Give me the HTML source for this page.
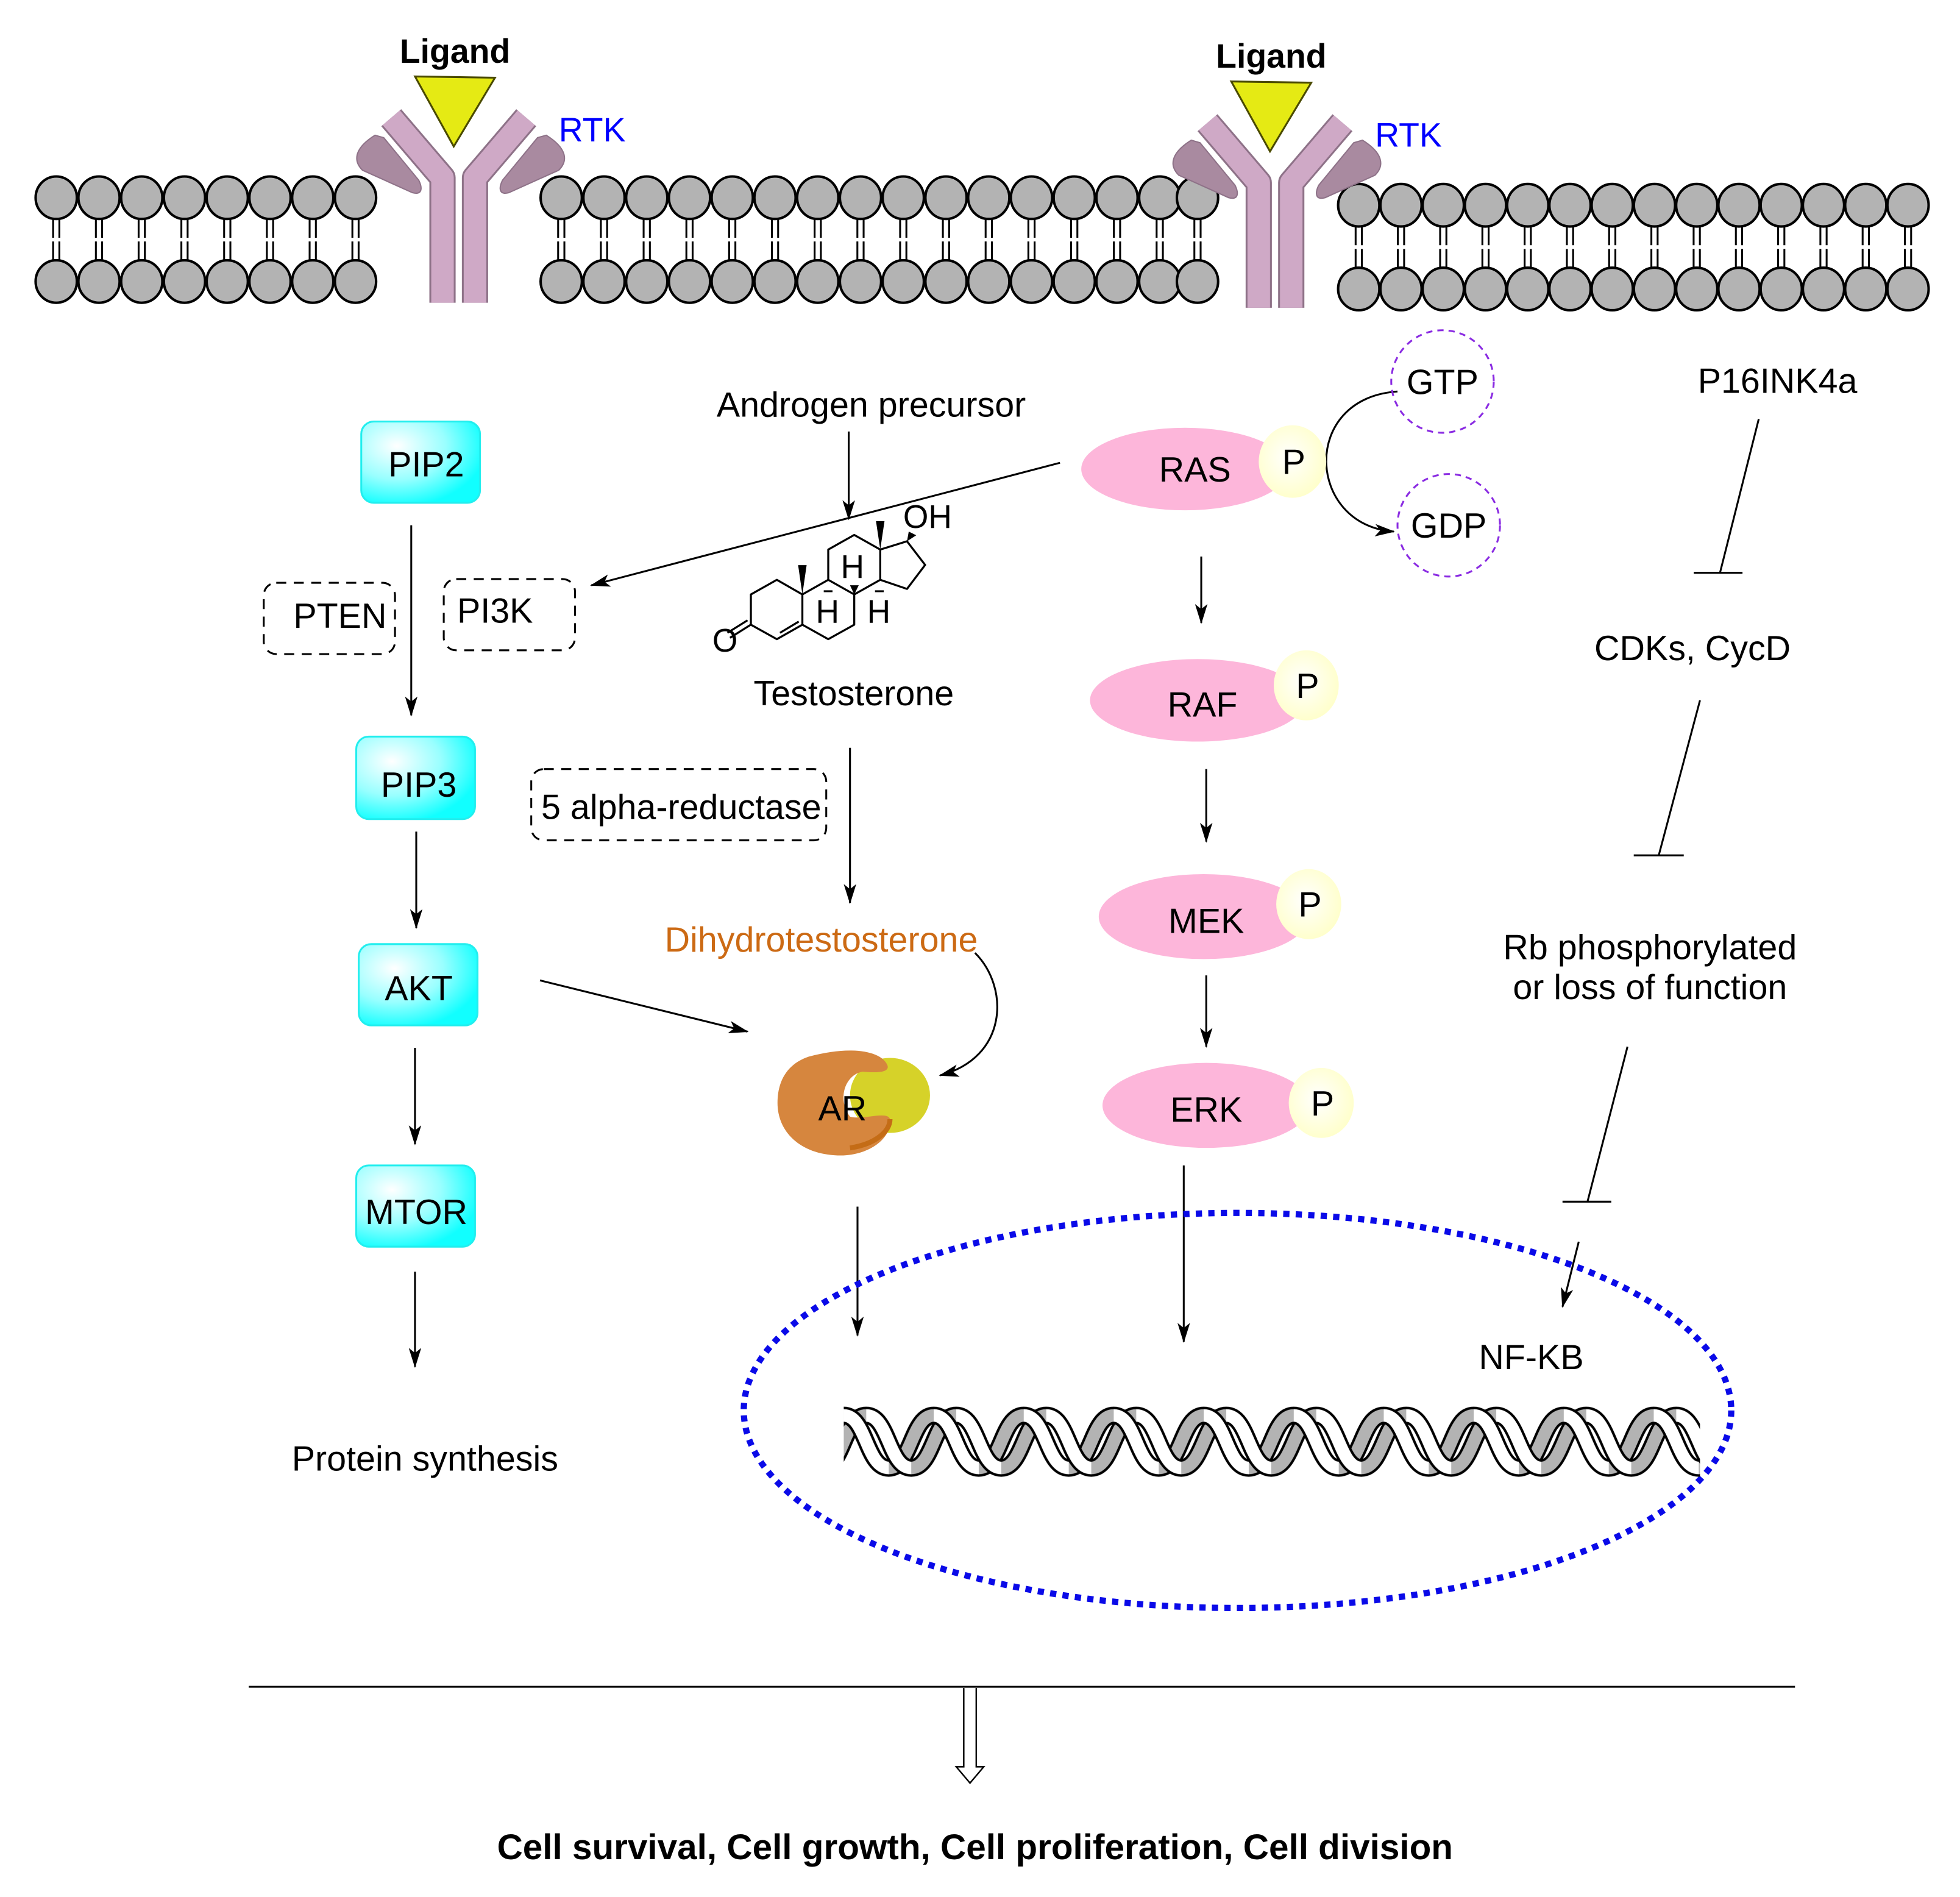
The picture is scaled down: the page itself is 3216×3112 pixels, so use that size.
<!DOCTYPE html>
<html><head><meta charset="utf-8"><style>html,body{margin:0;padding:0;background:#fff}svg{display:block}</style></head>
<body>
<svg width="3216" height="3112" viewBox="0 0 1568 1517" xmlns="http://www.w3.org/2000/svg" font-family="Liberation Sans, Arial, sans-serif">
<defs>
<marker id="ah" markerUnits="userSpaceOnUse" markerWidth="16" markerHeight="10" viewBox="0 0 16 10" refX="15" refY="5" orient="auto">
<path d="M0,0 L16,5 L0,10 L4,5 z" fill="#000"/></marker>
<radialGradient id="cy" cx="0.3" cy="0.3" r="0.75"><stop offset="0" stop-color="#fff"/><stop offset="0.55" stop-color="#9ff"/><stop offset="1" stop-color="#1ff"/></radialGradient>
<radialGradient id="py" cx="0.45" cy="0.45" r="0.6"><stop offset="0" stop-color="#fff"/><stop offset="1" stop-color="#ffffc8"/></radialGradient>
<g id="head"><ellipse rx="16.5" ry="17" fill="#b3b3b3" stroke="#000" stroke-width="2"/></g>
<g id="lipid">
<line x1="-2.5" y1="0" x2="-2.5" y2="67" stroke="#000" stroke-width="1.5"/>
<line x1="2.5" y1="0" x2="2.5" y2="67" stroke="#000" stroke-width="1.5"/>
<line x1="-5" y1="33.5" x2="5" y2="33.5" stroke="#fff" stroke-width="3"/>
<use href="#head"/><use href="#head" y="67"/></g>
<g id="rtk">
<path d="M300,108 C284,118 282,128 290,136 L330,154 C338,156 338,150 335,144 L307,110 Z" fill="#a98aa0" stroke="#8e7288" stroke-width="1"/>
<path d="M437,108 C453,118 455,128 447,136 L407,154 C399,156 399,150 402,144 L430,110 Z" fill="#a98aa0" stroke="#8e7288" stroke-width="1"/>
<path d="M313,94 L354,142 L354,242" fill="none" stroke="#8e7288" stroke-width="21" stroke-linejoin="round"/>
<path d="M421,94 L380,142 L380,242" fill="none" stroke="#8e7288" stroke-width="21" stroke-linejoin="round"/>
<path d="M313,94 L354,142 L354,242" fill="none" stroke="#cfa9c6" stroke-width="18" stroke-linejoin="round"/>
<path d="M421,94 L380,142 L380,242" fill="none" stroke="#cfa9c6" stroke-width="18" stroke-linejoin="round"/>
<polygon points="332,61 396,62 363,117" fill="#e5ea14" stroke="#4a4a00" stroke-width="1.5"/>
</g>
<pattern id="dna" patternUnits="userSpaceOnUse" x="675" y="1124" width="72" height="60">
<g fill="none">
<g stroke="#000" stroke-width="14">
<path d="M-36,50 C-18,50 -18,8 0,8 M36,50 C54,50 54,8 72,8 M-18,50 C0,50 0,8 18,8 M54,50 C72,50 72,8 90,8"/></g>
<g stroke="#b3b3b3" stroke-width="10">
<path d="M-36,50 C-18,50 -18,8 0,8 M36,50 C54,50 54,8 72,8 M-18,50 C0,50 0,8 18,8 M54,50 C72,50 72,8 90,8"/></g>
<g stroke="#000" stroke-width="14"><path d="M-72,8 C-54,8 -54,50 -36,50 M0,8 C18,8 18,50 36,50 M72,8 C90,8 90,50 108,50 M-54,8 C-36,8 -36,50 -18,50 M18,8 C36,8 36,50 54,50"/></g>
<g stroke="#fff" stroke-width="10"><path d="M-72,8 C-54,8 -54,50 -36,50 M0,8 C18,8 18,50 36,50 M72,8 C90,8 90,50 108,50 M-54,8 C-36,8 -36,50 -18,50 M18,8 C36,8 36,50 54,50"/></g>
</g></pattern>
</defs>

<g>
<use href="#lipid" x="45" y="158"/><use href="#lipid" x="79.2" y="158"/><use href="#lipid" x="113.4" y="158"/><use href="#lipid" x="147.6" y="158"/><use href="#lipid" x="181.8" y="158"/><use href="#lipid" x="216" y="158"/><use href="#lipid" x="250.2" y="158"/><use href="#lipid" x="284.4" y="158"/>
<use href="#lipid" x="449" y="158"/><use href="#lipid" x="483.2" y="158"/><use href="#lipid" x="517.4" y="158"/><use href="#lipid" x="551.6" y="158"/><use href="#lipid" x="585.8" y="158"/><use href="#lipid" x="620" y="158"/><use href="#lipid" x="654.2" y="158"/><use href="#lipid" x="688.4" y="158"/><use href="#lipid" x="722.6" y="158"/><use href="#lipid" x="756.8" y="158"/><use href="#lipid" x="791" y="158"/><use href="#lipid" x="825.2" y="158"/><use href="#lipid" x="859.4" y="158"/><use href="#lipid" x="893.6" y="158"/><use href="#lipid" x="927.8" y="158"/><use href="#lipid" x="958" y="158"/>
<use href="#lipid" x="1087" y="164"/><use href="#lipid" x="1120.8" y="164"/><use href="#lipid" x="1154.6" y="164"/><use href="#lipid" x="1188.4" y="164"/><use href="#lipid" x="1222.2" y="164"/><use href="#lipid" x="1256" y="164"/><use href="#lipid" x="1289.8" y="164"/><use href="#lipid" x="1323.6" y="164"/><use href="#lipid" x="1357.4" y="164"/><use href="#lipid" x="1391.2" y="164"/><use href="#lipid" x="1425" y="164"/><use href="#lipid" x="1458.8" y="164"/><use href="#lipid" x="1492.6" y="164"/><use href="#lipid" x="1526.4" y="164"/>
</g>
<use href="#rtk"/>
<use href="#rtk" x="653" y="4"/>
<text x="364" y="50" font-size="27" font-weight="bold" text-anchor="middle">Ligand</text>
<text x="1017" y="54" font-size="27" font-weight="bold" text-anchor="middle">Ligand</text>
<text x="447" y="113" font-size="27" fill="#0000ff">RTK</text>
<text x="1100" y="117" font-size="27" fill="#0000ff">RTK</text>

<g stroke="#2ee" stroke-width="1.5">
<rect x="289" y="337" width="95" height="65" rx="10" fill="url(#cy)"/>
<rect x="285" y="589" width="95" height="66" rx="10" fill="url(#cy)"/>
<rect x="287" y="755" width="95" height="65" rx="10" fill="url(#cy)"/>
<rect x="285" y="932" width="95" height="65" rx="10" fill="url(#cy)"/>
</g>
<g font-size="28" text-anchor="middle">
<text x="341" y="381">PIP2</text>
<text x="335" y="637">PIP3</text>
<text x="335" y="800">AKT</text>
<text x="333" y="979">MTOR</text>
<text x="340" y="1176">Protein synthesis</text>
<text x="272" y="502">PTEN</text>
<text x="396" y="498">PI3K</text>
<text x="545" y="655">5 alpha-reductase</text>
<text x="697" y="333">Androgen precursor</text>
<text x="683" y="564">Testosterone</text>
<text x="657" y="761" fill="#cc6a14">Dihydrotestosterone</text>
</g>
<g fill="none" stroke="#000" stroke-width="1.5" stroke-dasharray="8 6">
<rect x="211" y="466" width="105" height="57" rx="10"/>
<rect x="355" y="463" width="105" height="57" rx="10"/>
<rect x="425" y="615" width="236" height="57" rx="10"/>
</g>
<g stroke="#000" stroke-width="1.5" fill="none" marker-end="url(#ah)">
<line x1="329" y1="420" x2="329" y2="572"/>
<line x1="333" y1="665" x2="333" y2="742"/>
<line x1="332" y1="838" x2="332" y2="915"/>
<line x1="332" y1="1017" x2="332" y2="1093"/>
<line x1="679" y1="345" x2="679" y2="415"/>
<line x1="848" y1="370" x2="473" y2="468"/>
<line x1="680" y1="598" x2="680" y2="722"/>
<path d="M780,762 C808,790 806,846 752,860"/>
<line x1="432" y1="784" x2="598" y2="825"/>
<line x1="686" y1="965" x2="686" y2="1068"/>
<line x1="961" y1="445" x2="961" y2="498"/>
<line x1="965" y1="615" x2="965" y2="673"/>
<line x1="965" y1="780" x2="965" y2="837"/>
<line x1="947" y1="932" x2="947" y2="1073"/>
<path d="M1118,313 C1040,318 1045,420 1115,425"/>
<line x1="1263" y1="993" x2="1250" y2="1045"/>
</g>

<g fill="none" stroke="#000" stroke-width="1.6" stroke-linejoin="round">
<polygon points="600.7,475.3 621.5,463.6 641.9,475.3 641.9,499.5 621.5,511.1 600.7,499.5"/>
<polyline points="641.9,475.3 662.6,463.6 683.4,475.3 683.4,499.5 662.6,511.1 641.9,499.5"/>
<polyline points="662.6,463.6 662.6,439.4 683.4,427.7 704.2,439.4 704.2,463.6 683.4,475.3"/>
<polyline points="704.2,439.4 725.6,432.8 740.1,451.7 725.6,470.9 704.2,463.6"/>
<line x1="624" y1="506" x2="639" y2="497"/>
<line x1="600.7" y1="499.5" x2="584" y2="510"/>
<line x1="598" y1="496" x2="582" y2="506"/>
</g>
<g fill="#000">
<polygon points="641.9,475.3 638.5,451.9 645.3,451.9"/>
<polygon points="704.2,439.4 700.8,416.7 707.6,416.7"/>
<polygon points="725.6,432.8 727,425 733,428"/>
<polygon points="683.4,475.3 680,468 687,468"/>
<rect x="659" y="472" width="7" height="1.5"/><rect x="700" y="472" width="7" height="1.5"/>
</g>
<g font-size="26" text-anchor="middle">
<text x="742" y="422">OH</text>
<text x="580" y="521">O</text>
<text x="662" y="498">H</text>
<text x="682" y="462">H</text>
<text x="703" y="498">H</text>
</g>

<ellipse cx="712" cy="876" rx="32" ry="30" fill="#d6d229"/>
<path d="M647,845 C680,836 705,840 710,852 C712,858 700,858 690,857 C675,860 670,880 680,893 C690,896 710,888 712,895 C714,910 695,925 670,924 C640,923 622,905 622,882 C622,862 632,850 647,845 Z" fill="#d6863e"/>
<path d="M680,918 C700,915 712,905 712,895" stroke="#c46c16" stroke-width="4" fill="none"/>
<text x="674" y="896" font-size="28" text-anchor="middle">AR</text>

<ellipse cx="948" cy="375" rx="83" ry="33" fill="#fdb6da"/>
<ellipse cx="1034" cy="369" rx="27" ry="29" fill="url(#py)"/>
<ellipse cx="958" cy="560" rx="86" ry="33" fill="#fdb6da"/>
<ellipse cx="1045" cy="548" rx="26" ry="28" fill="url(#py)"/>
<ellipse cx="963" cy="733" rx="84" ry="34" fill="#fdb6da"/>
<ellipse cx="1047" cy="723" rx="26" ry="28" fill="url(#py)"/>
<ellipse cx="965" cy="884" rx="83" ry="34" fill="#fdb6da"/>
<ellipse cx="1057" cy="882" rx="26" ry="28" fill="url(#py)"/>
<g font-size="28" text-anchor="middle">
<text x="956" y="385">RAS</text><text x="1035" y="379">P</text>
<text x="962" y="573">RAF</text><text x="1046" y="558">P</text>
<text x="965" y="746">MEK</text><text x="1048" y="733">P</text>
<text x="965" y="897">ERK</text><text x="1058" y="892">P</text>
<text x="1154" y="315">GTP</text>
<text x="1159" y="430">GDP</text>
<text x="1422" y="314">P16INK4a</text>
<text x="1354" y="528">CDKs, CycD</text>
<text x="1320" y="767">Rb phosphorylated</text>
<text x="1320" y="799">or loss of function</text>
<text x="1225" y="1095">NF-KB</text>
</g>
<g fill="none" stroke="#8a2be2" stroke-width="1.5" stroke-dasharray="5 4">
<circle cx="1154" cy="305" r="41"/><circle cx="1159" cy="420" r="41"/>
</g>
<g stroke="#000" stroke-width="1.5">
<line x1="1407" y1="335" x2="1376" y2="458"/><line x1="1355" y1="458" x2="1394" y2="458"/>
<line x1="1360" y1="560" x2="1327" y2="684"/><line x1="1307" y1="684" x2="1347" y2="684"/>
<line x1="1302" y1="837" x2="1270" y2="961"/><line x1="1250" y1="961" x2="1289" y2="961"/>
</g>

<ellipse cx="990" cy="1128" rx="395" ry="158" fill="none" stroke="#0a0ae8" stroke-width="5" stroke-dasharray="5 5"/>
<rect x="675" y="1124" width="685" height="60" fill="url(#dna)"/>

<line x1="199" y1="1349" x2="1436" y2="1349" stroke="#000" stroke-width="1.5"/>
<path d="M771,1350 L771,1413 L765,1413 L776,1426 L787,1413 L781,1413 L781,1350" fill="#fff" stroke="#000" stroke-width="1.2"/>
<text x="780" y="1487" font-size="28.5" font-weight="bold" text-anchor="middle">Cell survival, Cell growth, Cell proliferation, Cell division</text>
</svg>
</body></html>
